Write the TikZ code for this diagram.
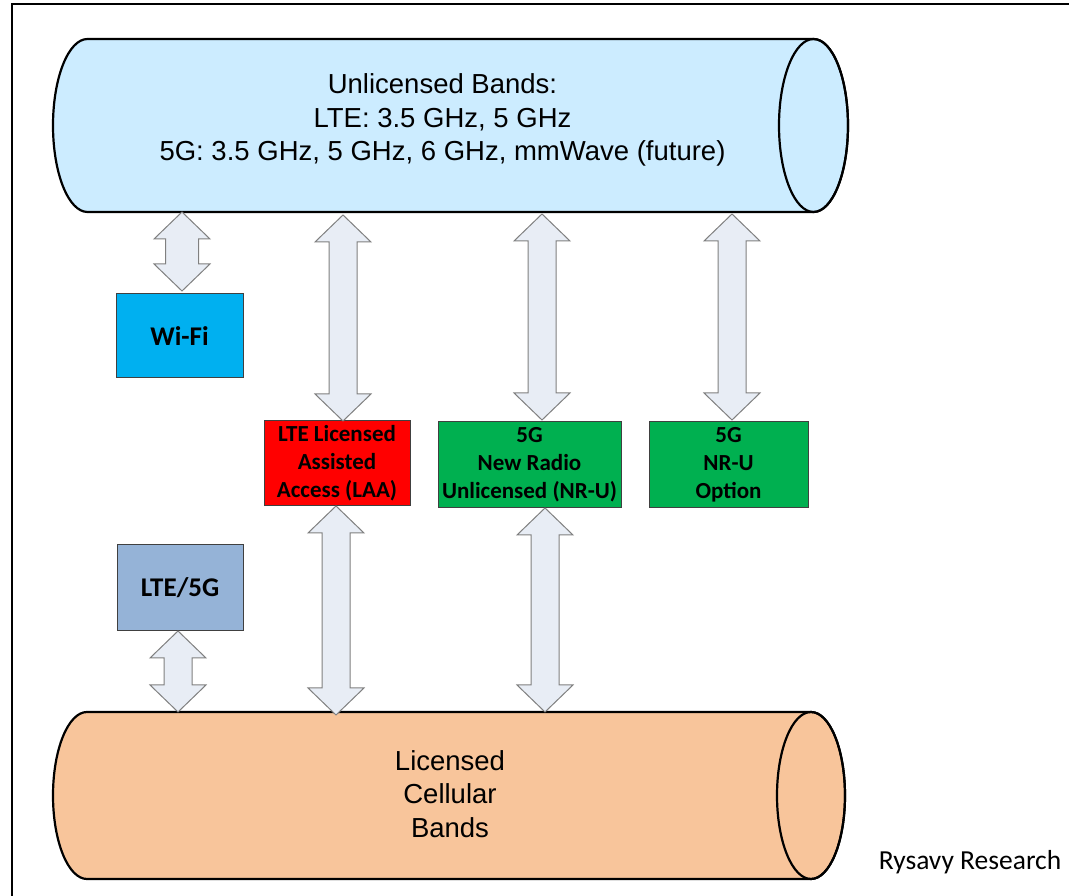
\documentclass[tikz,border=0pt]{standalone}
\usepackage{fontspec}
\setmainfont{Liberation Sans}
\newfontfamily\calibri{Carlito}
\usetikzlibrary{calc}
\definecolor{cylblue}{HTML}{CCECFF}
\definecolor{cylorange}{HTML}{F8C59B}
\definecolor{wifiblue}{HTML}{00B0F0}
\definecolor{laared}{HTML}{FF0000}
\definecolor{nrgreen}{HTML}{00B050}
\definecolor{ltegray}{HTML}{95B3D7}
\definecolor{arrowfill}{HTML}{E8EDF5}
\definecolor{arrowline}{HTML}{808080}
\tikzset{
  cylline/.style={draw=black, line width=2.2pt},
  cylbox/.style={inner sep=0pt, outer sep=0pt},
  bandtext/.style={font=\fontsize{27.5}{33.5}\selectfont, align=center, text=black, inner sep=0pt},
  techbox/.style={draw=black!75, line width=1pt, inner sep=0pt, outer sep=0pt, align=center, text=black,
    font=\calibri\bfseries\fontsize{23}{28}\selectfont},
  bigtext/.style={font=\calibri\bfseries\fontsize{27}{30}\selectfont},
  blockarrow/.style={draw=arrowline, fill=arrowfill, line width=1pt, line join=miter},
}
% #1 shaft half width, #2 x position, #3 upper end, #4 lower end
\newcommand\dblarrow[4][14]{%
  \draw[blockarrow] let \p1=(#3), \p2=(#4) in
    (#2pt,\y1) -- (#2pt+28pt,\y1-27pt) -- (#2pt+#1pt,\y1-27pt) -- (#2pt+#1pt,\y2+27pt)
    -- (#2pt+28pt,\y2+27pt) -- (#2pt,\y2) -- (#2pt-28pt,\y2+27pt) -- (#2pt-#1pt,\y2+27pt)
    -- (#2pt-#1pt,\y1-27pt) -- (#2pt-28pt,\y1-27pt) -- cycle;}
\begin{document}
\begin{tikzpicture}[x=1pt, y=1pt]
\useasboundingbox (0,0) rectangle (1069,896);
\fill[white] (0,0) rectangle (1069,896);
% frame
\draw[line width=2.5pt] (12,-10) -- (12,892) -- (1080,892);

% upper cylinder
\node[cylbox, minimum width=795pt, minimum height=173pt] (ucyl) at (450.5,770.5) {};
\draw[cylline, fill=cylblue] ([xshift=34.5pt]ucyl.north west) -- ([xshift=-34.5pt]ucyl.north east)
  arc[start angle=90, end angle=-90, x radius=34.5pt, y radius=86.5pt]
  -- ([xshift=34.5pt]ucyl.south west)
  arc[start angle=270, end angle=90, x radius=34.5pt, y radius=86.5pt] -- cycle;
\draw[cylline] ([xshift=-34.5pt]ucyl.east) ellipse[x radius=34.5pt, y radius=86.5pt];
\node[bandtext] (utext) at (442.5,776) {Unlicensed Bands:\\LTE: 3.5 GHz, 5 GHz\\5G: 3.5 GHz, 5 GHz, 6 GHz, mmWave (future)};

% lower cylinder
\node[cylbox, minimum width=792pt, minimum height=167pt] (lcyl) at (449,100.5) {};
\draw[cylline, fill=cylorange] ([xshift=34pt]lcyl.north west) -- ([xshift=-34pt]lcyl.north east)
  arc[start angle=90, end angle=-90, x radius=34pt, y radius=83.5pt]
  -- ([xshift=34pt]lcyl.south west)
  arc[start angle=270, end angle=90, x radius=34pt, y radius=83.5pt] -- cycle;
\draw[cylline] ([xshift=-34pt]lcyl.east) ellipse[x radius=34pt, y radius=83.5pt];
\node[bandtext] (ltext) at (450,102) {Licensed\\Cellular\\Bands};

% technology boxes
\node[techbox, bigtext, fill=wifiblue, minimum width=127pt, minimum height=84pt] (wifi) at (179.5,560) {Wi-Fi};
\node[techbox, fill=laared, minimum width=146pt, minimum height=85pt] (laa) at (337,432.5) {LTE Licensed\\Assisted\\Access (LAA)};
\node[techbox, fill=nrgreen, minimum width=183pt, minimum height=86pt] (nru) at (529.5,431) {5G\\New Radio\\Unlicensed (NR-U)};
\node[techbox, fill=nrgreen, minimum width=159pt, minimum height=86pt] (opt) at (728.5,431) {5G\\NR-U\\Option};
\node[techbox, bigtext, fill=ltegray, minimum width=126pt, minimum height=86pt] (lte) at (180,308) {LTE/5G};

% block arrows
\dblarrow[16.5]{182}{ucyl.south}{[yshift=3pt]wifi.north}
\dblarrow{343}{[yshift=-3pt]ucyl.south}{laa.north}
\dblarrow{542}{[yshift=-2pt]ucyl.south}{[yshift=2pt]nru.north}
\dblarrow{732}{[yshift=-2pt]ucyl.south}{[yshift=2pt]opt.north}
\dblarrow{178}{lte.south}{lcyl.north}
\dblarrow{336}{laa.south}{[yshift=-3pt]lcyl.north}
\dblarrow{545}{nru.south}{lcyl.north}

% credit
\node[font=\calibri\fontsize{27.5}{32}\selectfont, anchor=base, inner sep=0pt] (credit) at (970,26) {Rysavy Research};
\end{tikzpicture}
\end{document}
